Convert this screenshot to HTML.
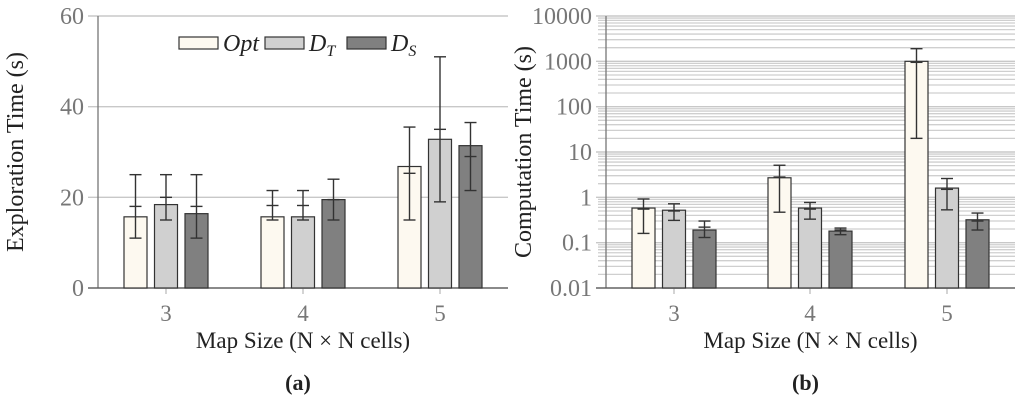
<!DOCTYPE html>
<html><head><meta charset="utf-8"><style>
html,body{margin:0;padding:0;background:#fff;}
svg{display:block;}
text{font-family:"Liberation Serif","DejaVu Serif",serif;}
</style></head><body>
<svg id="c" width="1024" height="403" viewBox="0 0 1024 403" xmlns="http://www.w3.org/2000/svg" font-family="Liberation Serif, serif"></svg>
<script>
const categories=['3','4','5'];
const seriesNames=['Opt','D_T','D_S'];
const expOpt=[15.7,15.7,26.8], expOptLo=[11,15,15], expOptHi=[25,21.5,35.5], expOptMid=[18,18.2,25.3];
const expDT=[18.4,15.7,32.8], expDTLo=[15,15,19], expDTHi=[25,21.5,51], expDTMid=[20,18.2,35];
const expDS=[16.4,19.5,31.4], expDSLo=[11,15,21.5], expDSHi=[25,24,36.5], expDSMid=[18,19.5,29];
const compOpt=[0.58,2.7,1000], compOptLo=[0.16,0.47,20], compOptHi=[0.92,5.1,1900], compOptMid=[0.55,2.8,950];
const compDT=[0.52,0.58,1.6], compDTLo=[0.31,0.33,0.53], compDTHi=[0.72,0.77,2.6], compDTMid=[0.5,0.55,1.5];
const compDS=[0.19,0.18,0.32], compDSLo=[0.13,0.15,0.19], compDSHi=[0.3,0.21,0.45], compDSMid=[0.22,0.19,0.3];
const expTicks=[0,20,40,60];
const compTicks=[0.01,0.1,1,10,100,1000,10000];
const tickLabelsComp=['0.01','0.1','1','10','100','1000','10000'];

const NS='http://www.w3.org/2000/svg';
const svg=document.getElementById('c');
function mk(t,a,p){const e=document.createElementNS(NS,t);for(const k in a)e.setAttribute(k,a[k]);if(t==='text')e.setAttribute('font-family','Liberation Serif, serif');(p||svg).appendChild(e);return e;}
const fills=['#fdf9f0','#d0d0d0','#808080'];
const TOP=16,BOT=288;
const yE=v=>BOT-(v/60)*(BOT-TOP);
const yC=v=>BOT-(Math.log10(v)+2)/6*(BOT-TOP);

function panel(x0,x1,centers,yf,ticks,labels,minor,sets,ytitle,sub){
  const g=mk('g',{});
  
  
  if(minor){
    for(let d=-2;d<4;d++)for(let m=2;m<=9;m++){const y=yf(m*Math.pow(10,d));
      const l=mk('line',{x1:x0-8,x2:x1,y1:y,y2:y,stroke:'#cfcfcf','stroke-width':1.3},g);
      }
  }
  ticks.forEach((t,i)=>{const y=yf(t);
    const l=mk('line',{x1:x0-10,x2:x1,y1:y,y2:y,stroke:'#c8c8c8','stroke-width':1.4},g);
    
    const tx=mk('text',{x:x0-14,y:y+8,'text-anchor':'end','font-size':24,fill:'#777'},g);
    tx.textContent=labels[i];
    
  });
  mk('line',{x1:x0,x2:x0,y1:TOP,y2:BOT,stroke:'#777','stroke-width':1.3},g);
  mk('line',{x1:x0-10,x2:x1,y1:BOT,y2:BOT,stroke:'#555','stroke-width':1.3},g);
  const bw=23,sp=30.5;
  categories.forEach((c,i)=>{
    const cx=centers[i];
    mk('line',{x1:cx,x2:cx,y1:BOT,y2:BOT+6,stroke:'#aaa'},g);
    const tx=mk('text',{x:cx,y:321,'text-anchor':'middle','font-size':23,fill:'#777'},g);
    tx.textContent=c;
    sets.forEach((s,j)=>{
      const bx=cx+(j-1)*sp-bw/2, y=yf(s.v[i]);
      const r=mk('rect',{x:bx,y:y,width:bw,height:BOT-y,fill:fills[j],stroke:'#333','stroke-width':1.2},g);
      
      
      const ex=bx+bw/2, yl=yf(s.lo[i]), yh=yf(s.hi[i]), ym=yf(s.mid[i]);
      const eg=mk('g',{stroke:'#333','stroke-width':1.4},g);
      
      mk('line',{x1:ex,x2:ex,y1:yl,y2:yh},eg);
      [yl,yh,ym].forEach(yy=>mk('line',{x1:ex-6,x2:ex+6,y1:yy,y2:yy},eg));
    });
  });
  const xt=mk('text',{x:(x0+x1)/2,y:348,'text-anchor':'middle','font-size':23,fill:'#222'},g);
  xt.textContent='Map Size (N × N cells)';
  const yt=mk('text',{x:0,y:0,'text-anchor':'middle','font-size':24,fill:'#222',transform:`translate(${x0-75},${(TOP+BOT)/2}) rotate(-90)`},g);
  yt.textContent=ytitle;
  const st=mk('text',{x:(x0+x1)/2-5,y:390,'text-anchor':'middle','font-size':22,'font-weight':'bold',fill:'#222'},g);
  st.textContent=sub;
}
panel(98,508,[166,303,440],yE,expTicks,expTicks.map(String),false,[
 {v:expOpt,lo:expOptLo,hi:expOptHi,mid:expOptMid},{v:expDT,lo:expDTLo,hi:expDTHi,mid:expDTMid},{v:expDS,lo:expDSLo,hi:expDSHi,mid:expDSMid}],'Exploration Time (s)','(a)');
panel(606,1015,[674,810,947],yC,compTicks,tickLabelsComp,true,[
 {v:compOpt,lo:compOptLo,hi:compOptHi,mid:compOptMid},{v:compDT,lo:compDTLo,hi:compDTHi,mid:compDTMid},{v:compDS,lo:compDSLo,hi:compDSHi,mid:compDSMid}],'Computation Time (s)','(b)');
const lg=mk('g',{});


const lx=[179,265,347], names=[['Opt',''],['D','T'],['D','S']];
names.forEach((n,j)=>{
  const e=mk('g',{},lg);
  
  
  mk('rect',{x:lx[j],y:37,width:39,height:12,fill:fills[j],stroke:'#333','stroke-width':1.2},e);
  const t=mk('text',{x:lx[j]+44,y:51,'font-size':24,'font-style':'italic',fill:'#222'},e);
  t.textContent=n[0];
  if(n[1]){const s=mk('tspan',{dy:5,'font-size':16},t);s.textContent=n[1];}
});
</script>
</body></html>
